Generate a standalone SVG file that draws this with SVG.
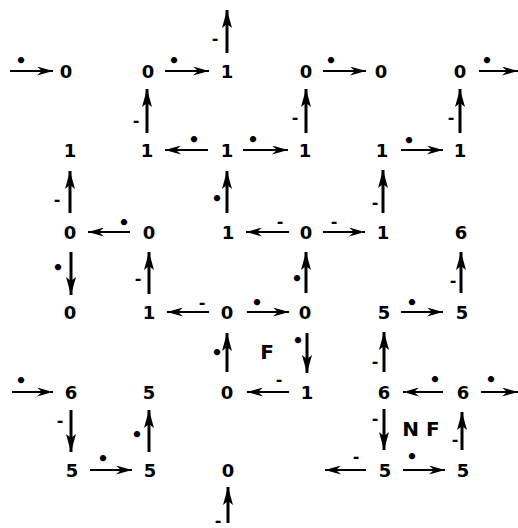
<svg xmlns="http://www.w3.org/2000/svg" width="518" height="528" viewBox="0 0 518 528">
<defs>
<marker id="ah" viewBox="0 0 16 9" refX="16" refY="4.5" markerWidth="16" markerHeight="9" markerUnits="userSpaceOnUse" orient="auto">
<path d="M0,0 L16,4.5 L0,9 L5,4.5 Z" fill="#000"/>
</marker>
<marker id="av" viewBox="0 0 18 10" refX="18" refY="5" markerWidth="18" markerHeight="10" markerUnits="userSpaceOnUse" orient="auto">
<path d="M0,0 L18,5 L0,10 L4,5 Z" fill="#000"/>
</marker>
<style>
.n{font-family:"DejaVu Sans","Liberation Sans",sans-serif;font-weight:bold;font-size:18px;text-anchor:middle;dominant-baseline:central;fill:#000}
.big{font-size:20px}
.h{stroke:#000;stroke-width:2;fill:none;marker-end:url(#ah)}
.v{stroke:#000;stroke-width:3;fill:none;marker-end:url(#av)}
.l{font-family:"DejaVu Sans","Liberation Sans",sans-serif;font-weight:bold;font-size:16px;text-anchor:middle;dominant-baseline:central;fill:#000}
.d{font-size:18px}
</style>
</defs>
<rect width="518" height="528" fill="#fff"/>
<g id="connectors">
<line class="h" x1="10" y1="71" x2="53" y2="71"/><text class="l d" x="21" y="60">•</text>
<line class="h" x1="165" y1="71" x2="209" y2="71"/><text class="l d" x="174" y="60">•</text>
<line class="h" x1="323" y1="71" x2="366" y2="71"/><text class="l d" x="331" y="60">•</text>
<line class="h" x1="479" y1="71" x2="518" y2="71"/><text class="l d" x="487" y="60">•</text>
<line class="h" x1="208" y1="150" x2="165" y2="150"/><text class="l d" x="194" y="139">•</text>
<line class="h" x1="243" y1="150" x2="288" y2="150"/><text class="l d" x="253" y="139">•</text>
<line class="h" x1="401" y1="150" x2="443" y2="150"/><text class="l d" x="409" y="140">•</text>
<line class="h" x1="130" y1="232" x2="88" y2="232"/><text class="l d" x="124" y="222">•</text>
<line class="h" x1="289" y1="232" x2="246" y2="232"/><text class="l" x="280" y="221">-</text>
<line class="h" x1="323" y1="232" x2="365" y2="232"/><text class="l" x="334" y="221">-</text>
<line class="h" x1="209" y1="312" x2="167" y2="312"/><text class="l" x="202" y="302">-</text>
<line class="h" x1="247" y1="312" x2="289" y2="312"/><text class="l d" x="257" y="302">•</text>
<line class="h" x1="401" y1="312" x2="443" y2="312"/><text class="l d" x="412" y="302">•</text>
<line class="h" x1="12" y1="392" x2="53" y2="392"/><text class="l d" x="21" y="380">•</text>
<line class="h" x1="289" y1="392" x2="247" y2="392"/><text class="l" x="279" y="379">-</text>
<line class="h" x1="443" y1="392" x2="403" y2="392"/><text class="l d" x="435" y="379">•</text>
<line class="h" x1="481" y1="392" x2="518" y2="392"/><text class="l d" x="491" y="379">•</text>
<line class="h" x1="90" y1="470" x2="132" y2="470"/><text class="l d" x="103" y="458">•</text>
<line class="h" x1="366" y1="470" x2="325" y2="470"/><text class="l" x="356" y="456">-</text>
<line class="h" x1="403" y1="470" x2="445" y2="470"/><text class="l d" x="412" y="456">•</text>
<line class="v" x1="227" y1="53" x2="227" y2="10"/><text class="l" x="215" y="38">-</text>
<line class="v" x1="147" y1="133" x2="147" y2="89"/><text class="l" x="136" y="120">-</text>
<line class="v" x1="306" y1="133" x2="306" y2="89"/><text class="l" x="295" y="117">-</text>
<line class="v" x1="460" y1="133" x2="460" y2="89"/><text class="l" x="451" y="117">-</text>
<line class="v" x1="70" y1="213" x2="70" y2="171"/><text class="l" x="57" y="199">-</text>
<line class="v" x1="227" y1="213" x2="227" y2="171"/><text class="l d" x="217" y="198">•</text>
<line class="v" x1="383" y1="213" x2="383" y2="170"/><text class="l" x="375" y="202">-</text>
<line class="v" x1="71" y1="252" x2="71" y2="295"/><text class="l d" x="58" y="267">•</text>
<line class="v" x1="149" y1="294" x2="149" y2="252"/><text class="l" x="138" y="278">-</text>
<line class="v" x1="306" y1="293" x2="306" y2="252"/><text class="l d" x="297" y="278">•</text>
<line class="v" x1="461" y1="293" x2="461" y2="252"/><text class="l" x="453" y="280">-</text>
<line class="v" x1="227" y1="372" x2="227" y2="333"/><text class="l d" x="217" y="352">•</text>
<line class="v" x1="307" y1="333" x2="307" y2="373"/><text class="l d" x="298" y="340">•</text>
<line class="v" x1="384" y1="372" x2="384" y2="332"/><text class="l" x="375" y="361">-</text>
<line class="v" x1="71" y1="410" x2="71" y2="452"/><text class="l" x="60" y="420">-</text>
<line class="v" x1="149" y1="452" x2="149" y2="410"/><text class="l d" x="137" y="434">•</text>
<line class="v" x1="384" y1="409" x2="384" y2="450"/><text class="l" x="375" y="418">-</text>
<line class="v" x1="462" y1="450" x2="462" y2="412"/><text class="l" x="455" y="439">-</text>
<line class="v" x1="228" y1="523" x2="228" y2="487"/><text class="l" x="218" y="520">-</text>
</g>
<g id="n00"><text class="n" x="66" y="71">0</text></g>
<g id="n01"><text class="n" x="148" y="71">0</text></g>
<g id="n02"><text class="n" x="227" y="71">1</text></g>
<g id="n03"><text class="n" x="306" y="71">0</text></g>
<g id="n04"><text class="n" x="381" y="71">0</text></g>
<g id="n05"><text class="n" x="460" y="71">0</text></g>
<g id="n10"><text class="n" x="70" y="150">1</text></g>
<g id="n11"><text class="n" x="147" y="150">1</text></g>
<g id="n12"><text class="n" x="227" y="150">1</text></g>
<g id="n13"><text class="n" x="305" y="150">1</text></g>
<g id="n14"><text class="n" x="382" y="150">1</text></g>
<g id="n15"><text class="n" x="460" y="150">1</text></g>
<g id="n20"><text class="n" x="70" y="232">0</text></g>
<g id="n21"><text class="n" x="149" y="232">0</text></g>
<g id="n22"><text class="n" x="228" y="232">1</text></g>
<g id="n23"><text class="n" x="306" y="232">0</text></g>
<g id="n24"><text class="n" x="383" y="232">1</text></g>
<g id="n25"><text class="n" x="461" y="232">6</text></g>
<g id="n30"><text class="n" x="70" y="312">0</text></g>
<g id="n31"><text class="n" x="149" y="312">1</text></g>
<g id="n32"><text class="n" x="227" y="312">0</text></g>
<g id="n33"><text class="n" x="305" y="312">0</text></g>
<g id="n34"><text class="n" x="384" y="312">5</text></g>
<g id="n35"><text class="n" x="462" y="312">5</text></g>
<g id="n40"><text class="n" x="71" y="392">6</text></g>
<g id="n41"><text class="n" x="149" y="392">5</text></g>
<g id="n42"><text class="n" x="227" y="392">0</text></g>
<g id="n43"><text class="n" x="307" y="392">1</text></g>
<g id="n44"><text class="n" x="384" y="392">6</text></g>
<g id="n45"><text class="n" x="463" y="392">6</text></g>
<g id="n50"><text class="n" x="72" y="470">5</text></g>
<g id="n51"><text class="n" x="150" y="470">5</text></g>
<g id="n52"><text class="n" x="228" y="470">0</text></g>
<g id="n54"><text class="n" x="385" y="470">5</text></g>
<g id="n55"><text class="n" x="463" y="470">5</text></g>
<g id="labelF"><text class="n big" x="267" y="352">F</text></g>
<g id="labelNF"><text class="n big" x="421" y="429">N F</text></g>
</svg>
